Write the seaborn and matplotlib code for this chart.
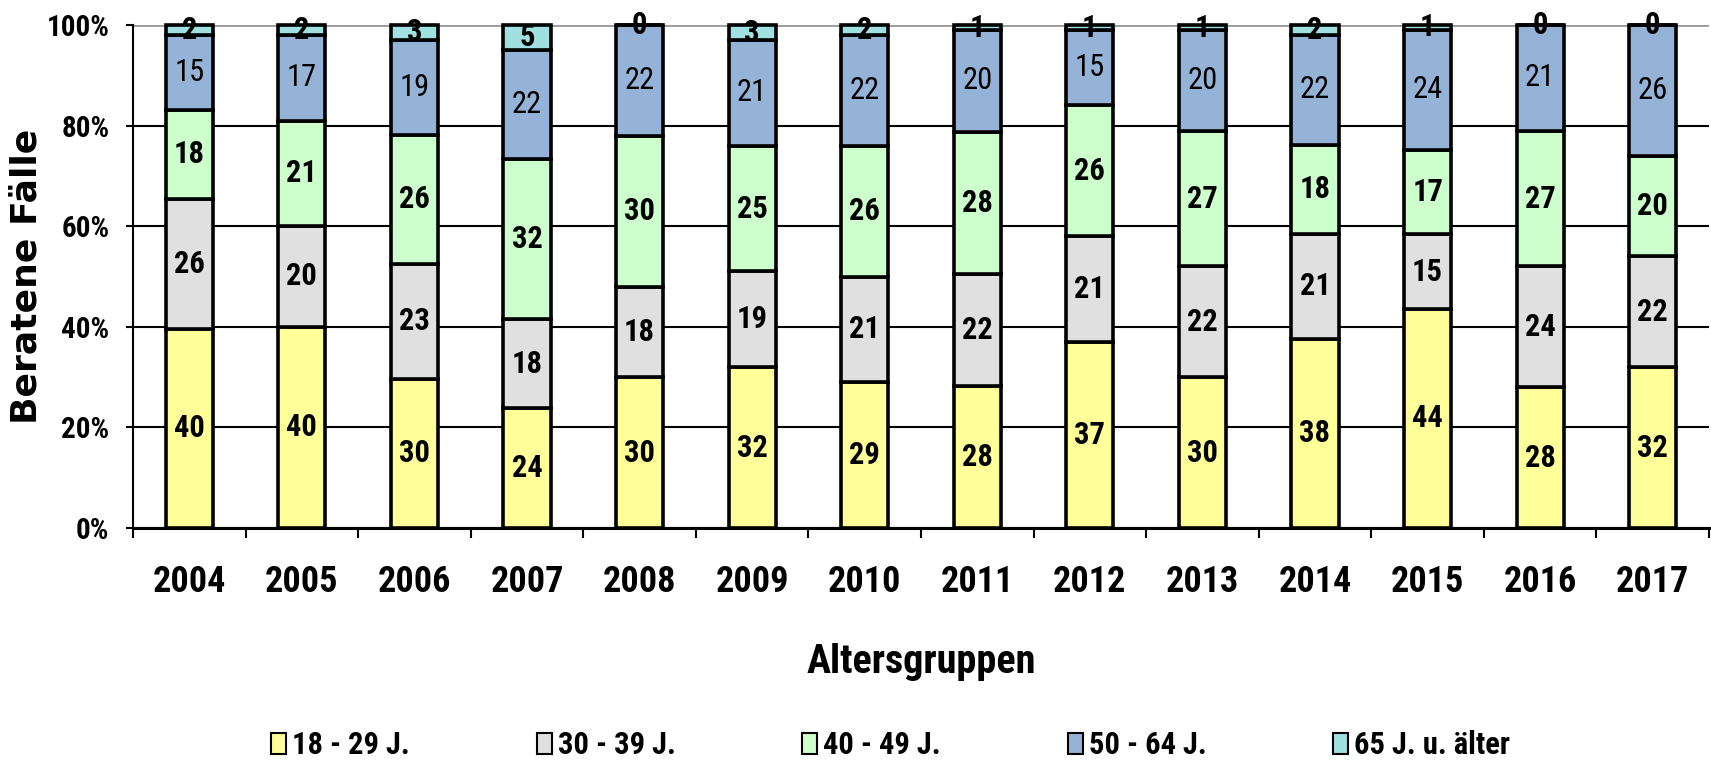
import matplotlib
matplotlib.use("Agg")
import matplotlib.pyplot as plt
from matplotlib import font_manager
from matplotlib.patches import Patch
from matplotlib.ticker import PercentFormatter, FixedLocator
from matplotlib.colors import to_hex
import pandas as pd
import seaborn as sns

# %% data (Prozent je Jahr)
years = [2004, 2005, 2006, 2007, 2008, 2009, 2010, 2011, 2012, 2013, 2014, 2015, 2016, 2017]
groups = ['18 - 29 J.', '30 - 39 J.', '40 - 49 J.', '50 - 64 J.', '65 J. u. älter']
age_18_29 = [40, 40, 30, 24, 30, 32, 29, 28, 37, 30, 38, 44, 28, 32]
age_30_39 = [26, 20, 23, 18, 18, 19, 21, 22, 21, 22, 21, 15, 24, 22]
age_40_49 = [18, 21, 26, 32, 30, 25, 26, 28, 26, 27, 18, 17, 27, 20]
age_50_64 = [15, 17, 19, 22, 22, 21, 22, 20, 15, 20, 22, 24, 21, 26]
age_65_up = [2, 2, 3, 5, 0, 3, 2, 1, 1, 1, 2, 1, 0, 0]
colors = ['#FFFF99', '#E0E0E0', '#CCFFCC', '#95B3D7', '#A0E0E0']

series = [age_18_29, age_30_39, age_40_49, age_50_64, age_65_up]
rows = []
for g, vals in zip(groups, series):
    for y, v in zip(years, vals):
        rows.append({'Jahr': y, 'Gruppe': g, 'Wert': v})
df = pd.DataFrame(rows)

# %% fonts: look for a narrow / condensed sans
entries = font_manager.fontManager.ttflist
names = {f.name for f in entries}
stretch = 'normal'
narrow = None
for n in ['Liberation Sans Narrow', 'Arial Narrow', 'Roboto Condensed', 'Open Sans Condensed',
          'Noto Sans Condensed', 'DejaVu Sans Condensed']:
    if n in names:
        narrow = n
        break
if narrow is None:
    for f in entries:
        if 'condensed' in str(f.stretch) and 'Mono' not in f.name and 'Serif' not in f.name:
            narrow, stretch = f.name, 'condensed'
            break
scale = 1.0
if narrow is None:
    narrow, scale = 'Liberation Sans', 0.82

sns.set_style('white')
plt.rcParams['font.family'] = [narrow, 'DejaVu Sans']
plt.rcParams['font.stretch'] = stretch
plt.rcParams['text.color'] = 'black'
plt.rcParams['axes.labelcolor'] = 'black'
plt.rcParams['xtick.color'] = 'black'
plt.rcParams['ytick.color'] = 'black'

# %% plot
fig = plt.figure(figsize=(17.11, 7.64), dpi=100)
ax = fig.add_axes([133 / 1711, 1 - 528 / 764, (1709 - 133) / 1711, (528 - 25) / 764])

palette = dict(zip(groups, colors))
sns.histplot(data=df, x='Jahr', hue='Gruppe', weights='Wert', multiple='fill',
             discrete=True, shrink=0.42, palette=palette, hue_order=groups[::-1],
             edgecolor='black', linewidth=2.6, alpha=1, legend=False, ax=ax)

# value labels in the middle of each segment
col2group = {to_hex(c): g for g, c in palette.items()}
for cont in ax.containers:
    g = col2group[to_hex(cont.patches[0].get_facecolor())]
    vals = series[groups.index(g)]
    for p in cont.patches:
        p.set_clip_on(False)
    ax.bar_label(cont, labels=[str(v) for v in vals], label_type='center', color='black',
                 fontsize=22 * scale, fontweight='normal' if g == '50 - 64 J.' else 'bold')

ax.set_xlim(2003.5, 2017.5)
ax.set_ylim(0, 1)
ax.yaxis.set_major_locator(FixedLocator([0, 0.2, 0.4, 0.6, 0.8, 1.0]))
ax.yaxis.set_major_formatter(PercentFormatter(1, decimals=0))
ax.set_xticks(years)
ax.set_xticklabels([str(y) for y in years], fontsize=26 * scale, fontweight='bold')
ax.set_xticks([y + 0.5 for y in [2003] + years], minor=True)
ax.tick_params(axis='x', which='major', length=0, pad=26)
ax.tick_params(axis='x', which='minor', length=7, width=1.5, color='black', direction='out', bottom=True)
ax.tick_params(axis='y', length=5, width=1.5, color='black', direction='out', left=True, pad=12,
               labelsize=21 * scale)
for t in ax.get_yticklabels():
    t.set_fontweight('bold')

ax.set_axisbelow(True)
ax.yaxis.grid(True, color='black', linewidth=1.5)
ax.get_ygridlines()[-1].set_color('#999999')
ax.get_ygridlines()[-1].set_linewidth(2)

for s in ['top', 'right']:
    ax.spines[s].set_visible(False)
ax.spines['left'].set_color('black')
ax.spines['left'].set_linewidth(1.5)
ax.spines['bottom'].set_color('black')
ax.spines['bottom'].set_linewidth(2.2)

ax.set_ylabel('Beratene Fälle', fontsize=26, fontweight='bold', family='DejaVu Sans',
              fontstretch='normal')
ax.yaxis.set_label_coords(-0.057, 0.5)
ax.set_xlabel('Altersgruppen', fontsize=29 * scale, fontweight='bold')
ax.xaxis.label.set_verticalalignment('baseline')
ax.xaxis.set_label_coords(0.5, -0.288)

# legend: one entry per slot, evenly spaced like the original
for i, (g, c) in enumerate(zip(groups, colors)):
    leg = fig.legend([Patch(facecolor=c, edgecolor='black', linewidth=1.5)], [g],
                     loc='center left', bbox_to_anchor=((271 + i * 265.5) / 1711, 1 - 745 / 764),
                     frameon=False, borderpad=0, borderaxespad=0,
                     handlelength=0.5, handleheight=0.7, handletextpad=0.2,
                     prop={'family': narrow, 'weight': 'bold', 'size': 22 * scale, 'stretch': stretch})

plt.savefig('out.png', dpi=100)
